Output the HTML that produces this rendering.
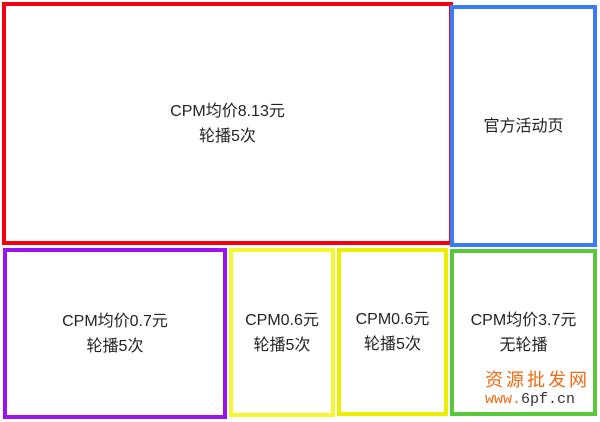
<!DOCTYPE html>
<html><head><meta charset="utf-8"><style>
body{margin:0;width:600px;height:422px;background:#fff;position:relative;overflow:hidden;font-family:"Liberation Sans","Noto Sans CJK SC",sans-serif;color:#222;}
.b{position:absolute;box-sizing:border-box;border:4px solid;display:flex;align-items:center;justify-content:center;text-align:center;font-size:16px;line-height:25px;}
</style></head><body>
<div class="b" style="left:2px;top:2px;width:451px;height:243px;border-color:#f5000e;">CPM均价8.13元<br>轮播5次</div>
<div class="b" style="left:450px;top:5px;width:147px;height:242px;border-color:#3a7cf5;">官方活动页</div>
<div class="b" style="left:3px;top:248px;width:224px;height:171px;border-color:#9b12f0;">CPM均价0.7元<br>轮播5次</div>
<div class="b" style="left:229px;top:248px;width:106px;height:169px;border-color:#f8f530;">CPM0.6元<br>轮播5次</div>
<div class="b" style="left:337px;top:248px;width:111px;height:168px;border-color:#eeee00;">CPM0.6元<br>轮播5次</div>
<div class="b" style="left:450px;top:249px;width:147px;height:167px;border-color:#5ac83c;">CPM均价3.7元<br>无轮播</div>
<div style="position:absolute;left:485px;top:366px;font-size:18px;color:#f26a10;letter-spacing:3px;font-family:'Noto Sans CJK SC',sans-serif;">资源批发网</div>
<div style="position:absolute;left:485px;top:391px;font-size:15px;color:#f26a10;font-family:'Liberation Mono',monospace;">www.<span style="color:#333">6pf.cn</span></div>
</body></html>
